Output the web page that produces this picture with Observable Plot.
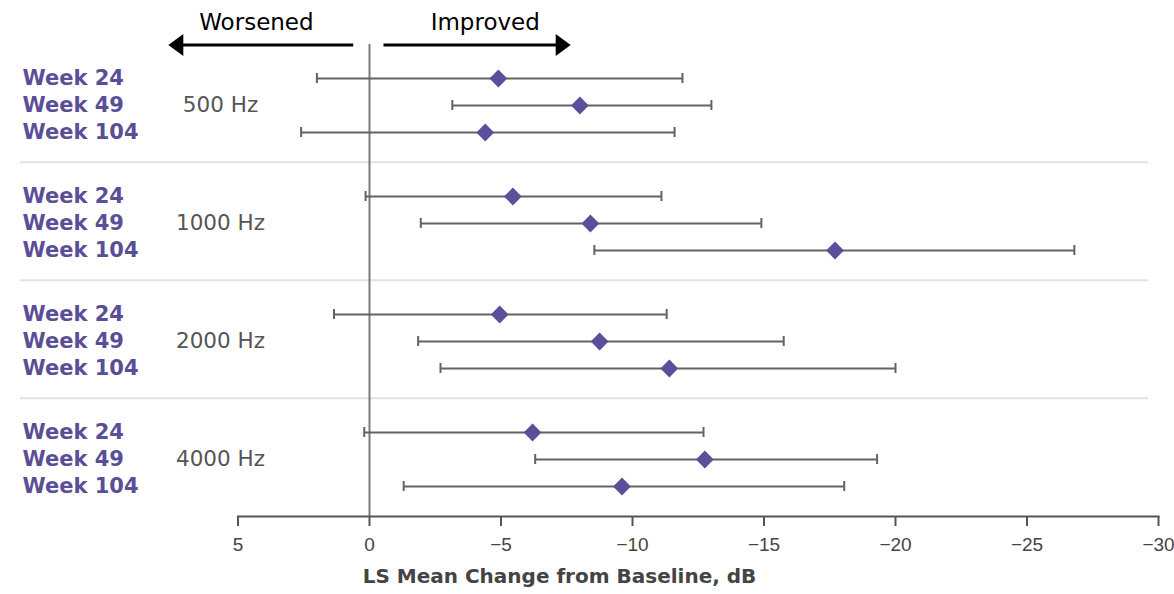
<!DOCTYPE html>
<html>
<head>
<meta charset="utf-8">
<script src="https://cdn.jsdelivr.net/npm/d3@7"></script>
<script src="https://cdn.jsdelivr.net/npm/@observablehq/plot@0.6"></script>
<style>
  html, body { margin: 0; padding: 0; background: #fff; }
  #chart svg { display: block; }
</style>
</head>
<body>
<div id="chart"></div>
<script>
// ---- data ----
const frequencies = ["500 Hz", "1000 Hz", "2000 Hz", "4000 Hz"];
const weeks = ["Week 24", "Week 49", "Week 104"];
// LS mean change from baseline (dB), rows = frequency, columns = week
const means = [
  [-4.9, -8.0, -4.4],
  [-5.45, -8.4, -17.7],
  [-4.95, -8.75, -11.4],
  [-6.2, -12.75, -9.6]
];
// 95% CI bounds
const ciLow = [
  [2.0, -3.15, 2.6],
  [0.15, -1.95, -8.55],
  [1.35, -1.85, -2.7],
  [0.2, -6.3, -1.3]
];
const ciHigh = [
  [-11.9, -13.0, -11.6],
  [-11.1, -14.9, -26.8],
  [-11.3, -15.75, -20.0],
  [-12.7, -19.3, -18.05]
];
const xDomain = [5, -30];
const xTicks = [5, 0, -5, -10, -15, -20, -25, -30];
const axisTitle = "LS Mean Change from Baseline, dB";
const directions = [
  {label: "Worsened", from: 0.6, to: 7.65, labelAt: 4.3},
  {label: "Improved", from: -0.55, to: -7.65, labelAt: -4.4}
];

const rows = frequencies.flatMap((f, i) => weeks.map((w, j) => ({
  freq: f, week: w, mean: means[i][j], lo: ciLow[i][j], hi: ciHigh[i][j]
})));

const purple = "#5b4f9b";
const barGray = "#636363";

// arrow head with tip at the origin, pointing left
const headLeft = {draw(ctx) { ctx.moveTo(0, 0); ctx.lineTo(15, -11); ctx.lineTo(15, 11); ctx.closePath(); }};

const first = () => frequencies[0];
const topRow = () => weeks[0];
const lastRow = () => weeks[weeks.length - 1];

const chart = Plot.plot({
  width: 1174,
  height: 594,
  marginTop: 42,
  marginBottom: 77,
  marginLeft: 20,
  marginRight: 16,
  style: {fontFamily: "DejaVu Sans", background: "white", overflow: "visible"},
  x: {domain: xDomain, insetLeft: 217.5, axis: null},
  y: {type: "band", domain: weeks, paddingInner: 0.636, paddingOuter: 0, insetTop: 29, insetBottom: 24.75, axis: null},
  fy: {domain: frequencies, padding: 0, axis: null},
  marks: [
    // group separators (between frequency groups)
    Plot.ruleY(frequencies.slice(0, -1), {fy: d => d, y: lastRow, dy: 29.75, stroke: "#e2e2e2", strokeWidth: 2, insetRight: 10}),
    // zero line
    Plot.ruleX([0], {stroke: "#7a7a7a", strokeWidth: 2}),
    // x axis line
    Plot.frame({anchor: "bottom", facetAnchor: "bottom", insetLeft: 217.5, stroke: "#555", strokeWidth: 2}),
    Plot.axisX({ticks: xTicks, tickSize: 10, tickPadding: 11, fontSize: 19, fontFamily: "Liberation Sans", stroke: "#555", strokeWidth: 2, fill: "#444", label: null}),
    Plot.text([axisTitle], {fy: () => frequencies[frequencies.length - 1], frameAnchor: "bottom", dx: -30, dy: 66, text: d => d, fontWeight: "bold", fontSize: 20, fill: "#444"}),
    // error bars
    Plot.ruleY(rows, {fy: "freq", y: "week", x1: "lo", x2: "hi", stroke: barGray, strokeWidth: 2}),
    Plot.tickX(rows, {fy: "freq", y: "week", x: "lo", stroke: barGray, strokeWidth: 2}),
    Plot.tickX(rows, {fy: "freq", y: "week", x: "hi", stroke: barGray, strokeWidth: 2}),
    // means
    Plot.dot(rows, {fy: "freq", y: "week", x: "mean", symbol: "diamond2", r: 8, fill: purple, stroke: "none"}),
    // row labels
    Plot.text(rows, {fy: "freq", y: "week", text: "week", frameAnchor: "left", textAnchor: "start", dx: 2, fontWeight: "bold", fontSize: 21, fill: "#5a4e97"}),
    Plot.text(frequencies, {fy: d => d, y: () => weeks[1], text: d => d, frameAnchor: "left", textAnchor: "middle", dx: 200, fontSize: 21.5, fill: "#555"}),
    // direction arrows
    Plot.ruleY(directions, {fy: first, y: topRow, x1: "from", x2: d => d.to + (d.to > 0 ? -0.4 : 0.4), dy: -33.5, stroke: "#000", strokeWidth: 3}),
    Plot.dot(directions, {fy: first, y: topRow, x: "to", dy: -33.5, symbol: headLeft, rotate: d => d.to > 0 ? 0 : 180, fill: "#000", stroke: "none"}),
    Plot.text(directions, {fy: first, y: topRow, x: "labelAt", text: "label", dy: -56, fontSize: 23, fill: "#000"})
  ]
});
document.getElementById("chart").appendChild(chart);
</script>
</body>
</html>
